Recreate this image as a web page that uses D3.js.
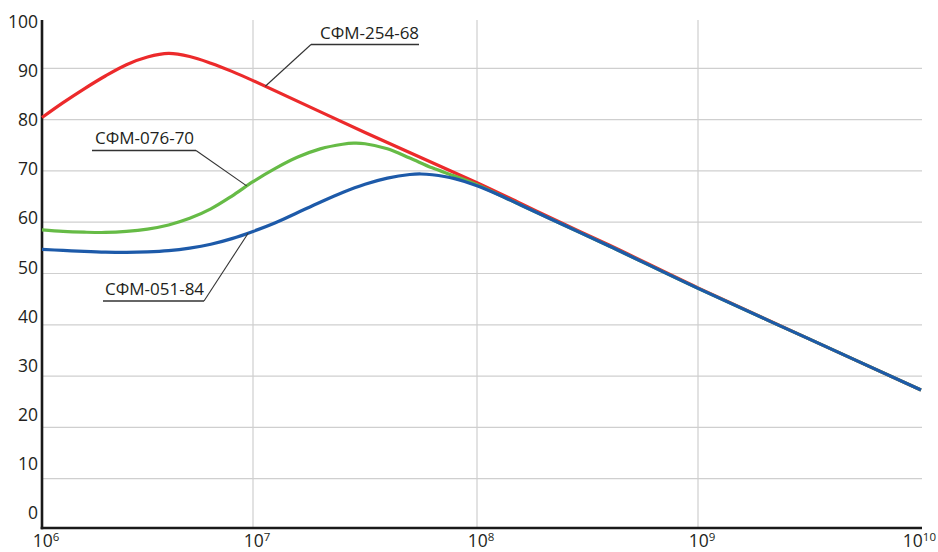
<!DOCTYPE html>
<html>
<head>
<meta charset="utf-8">
<script src="https://cdn.jsdelivr.net/npm/d3@7"></script>
<style>
  html, body { margin: 0; padding: 0; background: #fff; }
  svg { display: block; font-family: "Open Sans", "Noto Sans", sans-serif; }
</style>
</head>
<body>
<svg id="chart" width="938" height="552"></svg>
<script>
// Frequency decades (powers of ten) shown on the log axis
const decadeExps = [6, 7, 8, 9, 10];
const yTickValues = [0, 10, 20, 30, 40, 50, 60, 70, 80, 90, 100];

// Attenuation curves: log10(frequency) and value
const redLogF   = [6.0, 6.1, 6.2, 6.3, 6.4, 6.5, 6.6, 6.7, 6.8, 6.9, 7.0, 7.5, 8.0, 8.2, 8.4, 8.6, 9.0, 9.5, 10.0];
const redValues = [80.4, 83.3, 86.0, 88.5, 90.7, 92.2, 92.9, 92.3, 91.0, 89.4, 87.6, 77.5, 67.7, 63.6, 59.5, 55.5, 47.2, 37.2, 27.3];

const greenLogF   = [6.0, 6.1, 6.2, 6.3, 6.4, 6.5, 6.6, 6.7, 6.8, 6.9, 7.0, 7.1, 7.2, 7.3, 7.4, 7.45, 7.5, 7.6, 7.7, 7.8, 7.9, 8.0, 8.2, 8.4, 8.6, 9.0, 9.5, 10.0];
const greenValues = [58.5, 58.2, 58.05, 58.0, 58.2, 58.65, 59.45, 60.75, 62.6, 65.1, 67.9, 70.5, 72.7, 74.3, 75.2, 75.4, 75.3, 74.3, 72.5, 70.6, 69.0, 67.3, 63.3, 59.3, 55.3, 47.1, 37.2, 27.3];

const blueLogF   = [6.0, 6.1, 6.2, 6.3, 6.4, 6.5, 6.6, 6.7, 6.8, 6.9, 7.0, 7.1, 7.2, 7.3, 7.4, 7.5, 7.6, 7.7, 7.75, 7.8, 7.9, 8.0, 8.1, 8.2, 8.4, 8.6, 9.0, 9.5, 10.0];
const blueValues = [54.7, 54.5, 54.3, 54.15, 54.1, 54.2, 54.45, 54.95, 55.7, 56.8, 58.2, 59.9, 61.9, 63.9, 65.8, 67.4, 68.6, 69.3, 69.4, 69.25, 68.5, 67.1, 65.3, 63.3, 59.3, 55.3, 47.1, 37.2, 27.3];

const seriesNames  = ["СФМ-254-68", "СФМ-076-70", "СФМ-051-84"];
const seriesColors = ["#ec2a2b", "#66bb46", "#1d5aa9"];

const series = [
  { name: seriesNames[0], color: seriesColors[0], logF: redLogF,   values: redValues },
  { name: seriesNames[1], color: seriesColors[1], logF: greenLogF, values: greenValues },
  { name: seriesNames[2], color: seriesColors[2], logF: blueLogF,  values: blueValues }
];

// Callout labels: text position, underline span, and the frequency where the leader meets its curve
const callouts = [
  { series: 0, textX: 320, baseY: 38.5,  lineY: 44.5,  lineX0: 311, lineX1: 419, joinAt: "left",  targetLogF: 7.055 },
  { series: 1, textX: 95,  baseY: 143.5, lineY: 150.5, lineX0: 92,  lineX1: 196, joinAt: "right", targetLogF: 6.970 },
  { series: 2, textX: 105, baseY: 294.5, lineY: 301,   lineX0: 103, lineX1: 204, joinAt: "right", targetLogF: 6.977 }
];

const W = 938;
const svg = d3.select("#chart");

const x = d3.scaleLog()
  .domain(decadeExps.map(e => Math.pow(10, e)))
  .range([42, 253, 477, 698, 921]);

const y = d3.scaleLinear().domain([0, 100]).range([530, 17]);
// tick labels sit on their own evenly spaced column
const yLabel = d3.scaleLinear().domain([0, 100]).range([513, 21.5]);

const plotTop = 20, plotBottom = 528, plotLeft = 42, plotRight = 922;

// grid
const grid = svg.append("g").attr("stroke", "#cfcfcf").attr("stroke-width", 1.2);
grid.selectAll("line.h")
  .data(yTickValues.filter(v => v > 0 && v < 100))
  .join("line")
  .attr("class", "h")
  .attr("x1", plotLeft).attr("x2", plotRight)
  .attr("y1", d => y(d)).attr("y2", d => y(d));
grid.selectAll("line.v")
  .data(decadeExps.slice(1, -1))
  .join("line")
  .attr("class", "v")
  .attr("x1", d => x(Math.pow(10, d))).attr("x2", d => x(Math.pow(10, d)))
  .attr("y1", plotTop).attr("y2", plotBottom);

// axes
svg.append("line")
  .attr("x1", plotLeft).attr("x2", plotLeft)
  .attr("y1", plotTop).attr("y2", plotBottom + 1.2)
  .attr("stroke", "#1a1a1a").attr("stroke-width", 2.6);
svg.append("line")
  .attr("x1", plotLeft - 1.3).attr("x2", plotRight)
  .attr("y1", plotBottom).attr("y2", plotBottom)
  .attr("stroke", "#1a1a1a").attr("stroke-width", 2.6);

// y tick labels
svg.append("g").selectAll("text")
  .data(yTickValues)
  .join("text")
  .attr("x", 38)
  .attr("y", d => yLabel(d))
  .attr("dy", "0.36em")
  .attr("text-anchor", "end")
  .attr("font-size", 17.5)
  .attr("fill", "#231f20")
  .text(d => d);

// x tick labels: 10 with superscript exponent
const xl = svg.append("g").selectAll("text")
  .data(decadeExps)
  .join("text")
  .attr("x", d => x(Math.pow(10, d)) + 4)
  .attr("y", 547)
  .attr("text-anchor", "middle")
  .attr("font-size", 17.5)
  .attr("fill", "#231f20");
xl.append("tspan").text("10");
xl.append("tspan")
  .attr("dy", -6.5)
  .attr("font-size", 11.5)
  .text(d => d);
// keep the last label inside the right edge
xl.each(function () {
  const b = this.getBBox();
  const over = b.x + b.width - (W - 2);
  if (over > 0) d3.select(this).attr("x", +d3.select(this).attr("x") - over);
});

// curves
const line = d3.line()
  .x(d => x(Math.pow(10, d[0])))
  .y(d => y(d[1]))
  .curve(d3.curveCatmullRom.alpha(0.5));

const paths = svg.append("g").selectAll("path")
  .data(series)
  .join("path")
  .attr("fill", "none")
  .attr("stroke", d => d.color)
  .attr("stroke-width", 3.2)
  .attr("stroke-linejoin", "round")
  .attr("d", d => line(d.logF.map((lf, i) => [lf, d.values[i]])));

// point on a rendered curve at a given screen x
function pointOnPath(node, px) {
  const total = node.getTotalLength();
  let lo = 0, hi = total;
  for (let i = 0; i < 40; i++) {
    const mid = (lo + hi) / 2;
    if (node.getPointAtLength(mid).x < px) lo = mid; else hi = mid;
  }
  return node.getPointAtLength((lo + hi) / 2);
}

// callouts
const cg = svg.append("g");
callouts.forEach(c => {
  const node = paths.nodes()[c.series];
  const p = pointOnPath(node, x(Math.pow(10, c.targetLogF)));
  const jx = c.joinAt === "left" ? c.lineX0 : c.lineX1;
  cg.append("line")
    .attr("x1", c.lineX0).attr("x2", c.lineX1)
    .attr("y1", c.lineY).attr("y2", c.lineY)
    .attr("stroke", "#333").attr("stroke-width", 1.3);
  cg.append("line")
    .attr("x1", jx).attr("y1", c.lineY)
    .attr("x2", p.x).attr("y2", p.y)
    .attr("stroke", "#333").attr("stroke-width", 1.1);
  cg.append("text")
    .attr("x", c.textX).attr("y", c.baseY)
    .attr("font-size", 17)
    .attr("fill", "#231f20")
    .text(series[c.series].name);
});
</script>
</body>
</html>
